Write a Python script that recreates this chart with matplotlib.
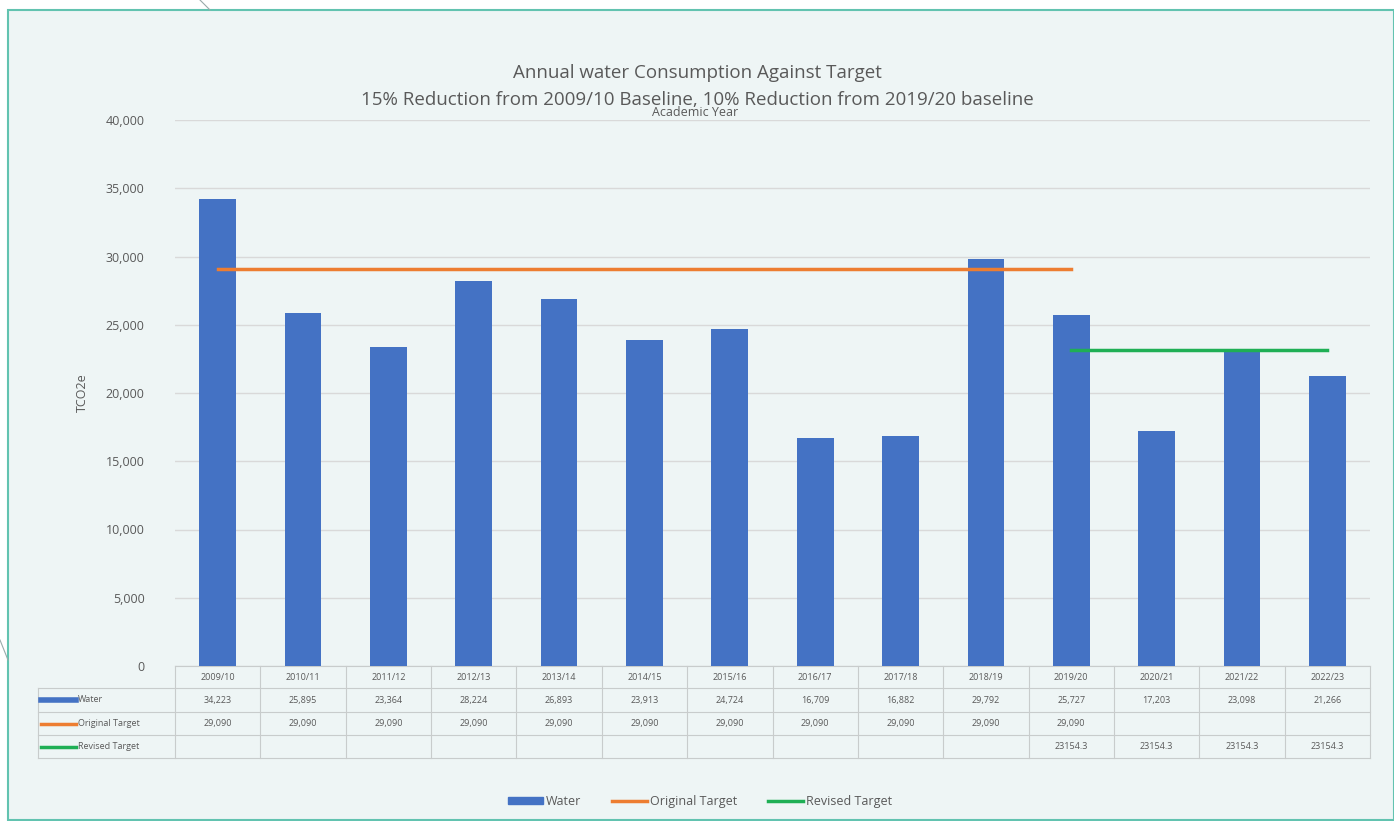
import matplotlib.pyplot as plt
import matplotlib.transforms as mtransforms
from matplotlib.patches import Rectangle
from matplotlib.lines import Line2D
from matplotlib.ticker import FuncFormatter

plt.rcParams['font.family'] = ['Open Sans', 'DejaVu Sans']

years = ['2009/10', '2010/11', '2011/12', '2012/13', '2013/14', '2014/15', '2015/16',
         '2016/17', '2017/18', '2018/19', '2019/20', '2020/21', '2021/22', '2022/23']
water = [34223, 25895, 23364, 28224, 26893, 23913, 24724,
         16709, 16882, 29792, 25727, 17203, 23098, 21266]
original_target = [29090] * 11 + [None] * 3
revised_target = [None] * 10 + [23154.3] * 4

blue = '#4472C4'
orange = '#ED7D31'
green = '#1FAF55'
bg = '#EEF5F5'
txt = '#595959'
grid_c = '#D9D9D9'

fig = plt.figure(figsize=(13.94, 8.21), dpi=100)
fig.patch.set_facecolor('white')
# slide frame
fig.patches.append(Rectangle((8 / 1394, 1 - 820 / 821), 1 - 8 / 1394, (820 - 10) / 821,
                             transform=fig.transFigure, facecolor=bg,
                             edgecolor='#62C3B0', linewidth=1.5, zorder=-5))
fig.lines.append(Line2D([200 / 1394, 210 / 1394], [1.0, 1 - 10 / 821],
                        transform=fig.transFigure, color='#9aa', lw=0.8))
fig.lines.append(Line2D([0, 8 / 1394], [1 - 640 / 821, 1 - 660 / 821],
                        transform=fig.transFigure, color='#9aa', lw=0.8))

ax = fig.add_axes([175 / 1394, 1 - 666 / 821, (1370 - 175) / 1394, (666 - 120) / 821])
ax.set_facecolor('none')
x = list(range(len(years)))

ax.bar(x, water, width=0.43, color=blue, zorder=3)
ox = [i for i, v in enumerate(original_target) if v is not None]
ax.plot(ox, [original_target[i] for i in ox], color=orange, lw=2.5, zorder=4)
rx = [i for i, v in enumerate(revised_target) if v is not None]
ax.plot(rx, [revised_target[i] for i in rx], color=green, lw=2.5, zorder=4)

ax.set_xlim(-0.5, len(years) - 0.5)
ax.set_ylim(0, 40000)
ax.set_yticks(range(0, 40001, 5000))
ax.yaxis.set_major_formatter(FuncFormatter(lambda v, p: f'{int(v):,}'))
ax.tick_params(axis='y', length=0, labelsize=9, labelcolor=txt, pad=22)
ax.set_xticks([])
ax.grid(axis='y', color=grid_c, lw=1, zorder=0)
for s in ax.spines.values():
    s.set_visible(False)
ax.set_ylabel('TCO2e', fontsize=9, color=txt, labelpad=12)

# data table under the axis
trans = mtransforms.blended_transform_factory(ax.transData, ax.transAxes)
ph = 546.0
rows_px = [0, 22, 46, 69, 92]
rows = [-r / ph for r in rows_px]
left = -0.5 - (175 - 38) / ((1370 - 175) / 14)
line_kw = dict(color='#C8CCCC', lw=0.8, transform=trans, clip_on=False)
for i, r in enumerate(rows):
    x0 = -0.5 if i == 0 else left
    ax.add_line(Line2D([x0, len(years) - 0.5], [r, r], **line_kw))
for b in range(len(years) + 1):
    ax.add_line(Line2D([b - 0.5, b - 0.5], [rows[0], rows[-1]], **line_kw))
ax.add_line(Line2D([left, left], [rows[1], rows[-1]], **line_kw))

def fmt(v):
    if v is None:
        return ''
    if float(v).is_integer():
        return f'{int(v):,}'
    return f'{v}'

row_vals = [years, [fmt(v) for v in water],
            [fmt(v) for v in original_target], [fmt(v) for v in revised_target]]
for ri, vals in enumerate(row_vals):
    yc = (rows[ri] + rows[ri + 1]) / 2
    for i, s in enumerate(vals):
        ax.text(i, yc, s, transform=trans, ha='center', va='center',
                fontsize=6.5, color=txt, clip_on=False)

series_names = ['Water', 'Original Target', 'Revised Target']
series_cols = [blue, orange, green]
for k, (name, c) in enumerate(zip(series_names, series_cols)):
    yc = (rows[k + 1] + rows[k + 2]) / 2
    ax.add_line(Line2D([left + 0.03, left + 0.45], [yc, yc], color=c,
                       lw=4 if k == 0 else 2.5, transform=trans, clip_on=False))
    ax.text(left + 0.47, yc, name, transform=trans, ha='left', va='center',
            fontsize=6.5, color=txt, clip_on=False)

fig.text(0.5, 1 - 73 / 821, 'Annual water Consumption Against Target', ha='center',
         va='center', fontsize=13.5, color=txt)
fig.text(0.5, 1 - 100 / 821,
         '15% Reduction from 2009/10 Baseline, 10% Reduction from 2019/20 baseline',
         ha='center', va='center', fontsize=13.5, color=txt)
fig.text(695 / 1394, 1 - 113 / 821, 'Academic Year', ha='center', va='center',
         fontsize=9, color=txt)

handles = [Rectangle((0, 0), 1, 1, color=blue),
           Line2D([], [], color=orange, lw=2.5),
           Line2D([], [], color=green, lw=2.5)]
fig.legend(handles, series_names, loc='center', bbox_to_anchor=(700 / 1394, 1 - 801 / 821),
           ncol=3, frameon=False, fontsize=9, labelcolor=txt, handlelength=2.8,
           handleheight=0.5, columnspacing=2.5, handletextpad=0.2)

fig.savefig('out.png', dpi=100, facecolor=fig.get_facecolor())
